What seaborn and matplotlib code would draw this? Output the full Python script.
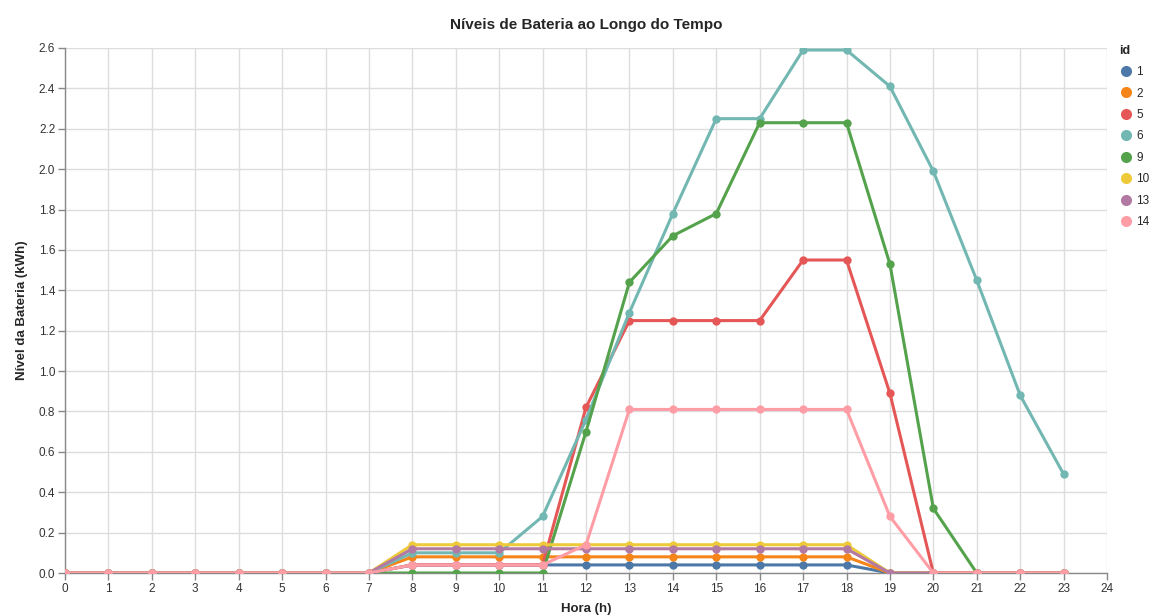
import matplotlib
matplotlib.use("Agg")
import matplotlib.pyplot as plt
from matplotlib.lines import Line2D
import seaborn as sns
import pandas as pd

hours = list(range(24))
ids = [1, 2, 5, 6, 9, 10, 13, 14]
colors = ["#4c78a8", "#f58518", "#e45756", "#72b7b2", "#54a24b", "#eeca3b", "#b279a2", "#ff9da6"]

z7 = [0.0] * 8
id1 = z7 + [0.04, 0.04, 0.04, 0.04, 0.04, 0.04, 0.04, 0.04, 0.04, 0.04, 0.04, 0.0, 0.0, 0.0, 0.0, 0.0]
id2 = z7 + [0.08, 0.08, 0.08, 0.08, 0.08, 0.08, 0.08, 0.08, 0.08, 0.08, 0.08, 0.0, 0.0, 0.0, 0.0, 0.0]
id5 = z7 + [0.04, 0.04, 0.04, 0.04, 0.82, 1.25, 1.25, 1.25, 1.25, 1.55, 1.55, 0.89, 0.0, 0.0, 0.0, 0.0]
id6 = z7 + [0.10, 0.10, 0.10, 0.28, 0.76, 1.29, 1.78, 2.25, 2.25, 2.59, 2.59, 2.41, 1.99, 1.45, 0.88, 0.49]
id9 = z7 + [0.0, 0.0, 0.0, 0.0, 0.70, 1.44, 1.67, 1.78, 2.23, 2.23, 2.23, 1.53, 0.32, 0.0, 0.0, 0.0]
id10 = z7 + [0.14, 0.14, 0.14, 0.14, 0.14, 0.14, 0.14, 0.14, 0.14, 0.14, 0.14, 0.0, 0.0, 0.0, 0.0, 0.0]
id13 = z7 + [0.12, 0.12, 0.12, 0.12, 0.12, 0.12, 0.12, 0.12, 0.12, 0.12, 0.12, 0.0, 0.0, 0.0, 0.0, 0.0]
id14 = z7 + [0.04, 0.04, 0.04, 0.04, 0.14, 0.81, 0.81, 0.81, 0.81, 0.81, 0.81, 0.28, 0.0, 0.0, 0.0, 0.0]
series = [id1, id2, id5, id6, id9, id10, id13, id14]

rows = []
for i, vals in zip(ids, series):
    for h, v in zip(hours, vals):
        rows.append({"id": str(i), "hora": h, "nivel": v})
df = pd.DataFrame(rows)

sns.set_theme(style="white")
plt.rcParams["font.family"] = ["Liberation Sans", "DejaVu Sans"]

fig = plt.figure(figsize=(11.72, 6.16), dpi=100)
ax = fig.add_axes([65 / 1172, (616 - 573) / 616, (1107 - 65) / 1172, (573 - 48) / 616])

palette = dict(zip([str(i) for i in ids], colors))
sns.lineplot(data=df, x="hora", y="nivel", hue="id", palette=palette,
             marker="o", markersize=6, markeredgewidth=0, linewidth=2.2,
             alpha=1, ax=ax, legend=False, zorder=3)

ax.set_xlim(0, 24)
ax.set_ylim(0, 2.6)
ax.set_xticks(range(0, 25))
yt = [round(0.2 * k, 1) for k in range(14)]
ax.set_yticks(yt)
ax.set_yticklabels([f"{v:.1f}" for v in yt])
ax.grid(True, color="#dddddd", linewidth=1, zorder=0)
ax.set_axisbelow(True)
for s in ["top", "right"]:
    ax.spines[s].set_visible(False)
for s in ["left", "bottom"]:
    ax.spines[s].set_color("#888888")
    ax.spines[s].set_linewidth(1)
ax.tick_params(axis="both", which="major", length=5, width=1, color="#888888",
               labelsize=8.5, labelcolor="#333333", pad=2, direction="out",
               bottom=True, left=True)
ax.set_xlabel("Hora (h)", fontsize=9.5, fontweight="bold", labelpad=6)
ax.set_ylabel("Nível da Bateria (kWh)", fontsize=9.5, fontweight="bold", labelpad=8)
ax.set_title("Níveis de Bateria ao Longo do Tempo", fontsize=11, fontweight="bold", pad=14)

handles = [Line2D([0], [0], marker="o", linestyle="none", markersize=8,
                  markerfacecolor=c, markeredgewidth=0) for c in colors]
leg = fig.legend(handles, [str(i) for i in ids], title="id", loc="upper left",
                 bbox_to_anchor=(1114 / 1172, 1 - 40 / 616), frameon=False,
                 fontsize=8.5, title_fontproperties={"weight": "bold", "size": 9},
                 handletextpad=0.3, labelspacing=0.8, borderaxespad=0,
                 handlelength=1.2, alignment="left")

fig.savefig("out.png", dpi=100)
